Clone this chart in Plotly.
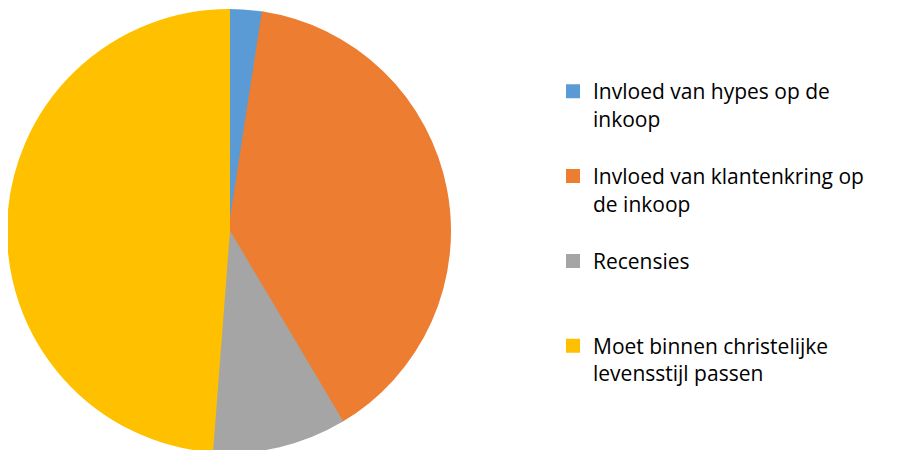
import plotly.graph_objects as go

labels = [
    "Invloed van hypes op de inkoop",
    "Invloed van klantenkring op de inkoop",
    "Recensies",
    "Moet binnen christelijke levensstijl passen",
]
legend_text = [
    "Invloed van hypes op de<br>inkoop",
    "Invloed van klantenkring op<br>de inkoop",
    "Recensies",
    "Moet binnen christelijke<br>levensstijl passen",
]
values = [1, 16, 4, 20]
colors = ["#5B9BD5", "#ED7D31", "#A5A5A5", "#FFC000"]

# pad legend entries to 3 lines each for even spacing
padded = []
for t in legend_text:
    n = t.count("<br>") + 1
    padded.append(t + "<br> " * (3 - n))

W, H = 897, 450
fig = go.Figure(
    go.Pie(
        labels=padded,
        values=values,
        sort=False,
        direction="clockwise",
        rotation=0,
        textinfo="none",
        hoverinfo="label+value+percent",
        marker=dict(colors=colors, line=dict(color=colors, width=2)),
        domain=dict(x=[0, 442 / W], y=[6 / H, 448 / H]),
    )
)
fig.update_layout(
    width=W,
    height=H,
    margin=dict(l=0, r=0, t=0, b=0),
    paper_bgcolor="white",
    plot_bgcolor="white",
    font=dict(family="Open Sans", size=21, color="#000000"),
    legend=dict(
        x=545 / W,
        xanchor="left",
        y=1 - 63 / H,
        yanchor="top",
        valign="top",
        bgcolor="rgba(0,0,0,0)",
        font=dict(family="Open Sans", size=21, color="#000000"),
    ),
    showlegend=True,
)
fig.write_html("out.html")
